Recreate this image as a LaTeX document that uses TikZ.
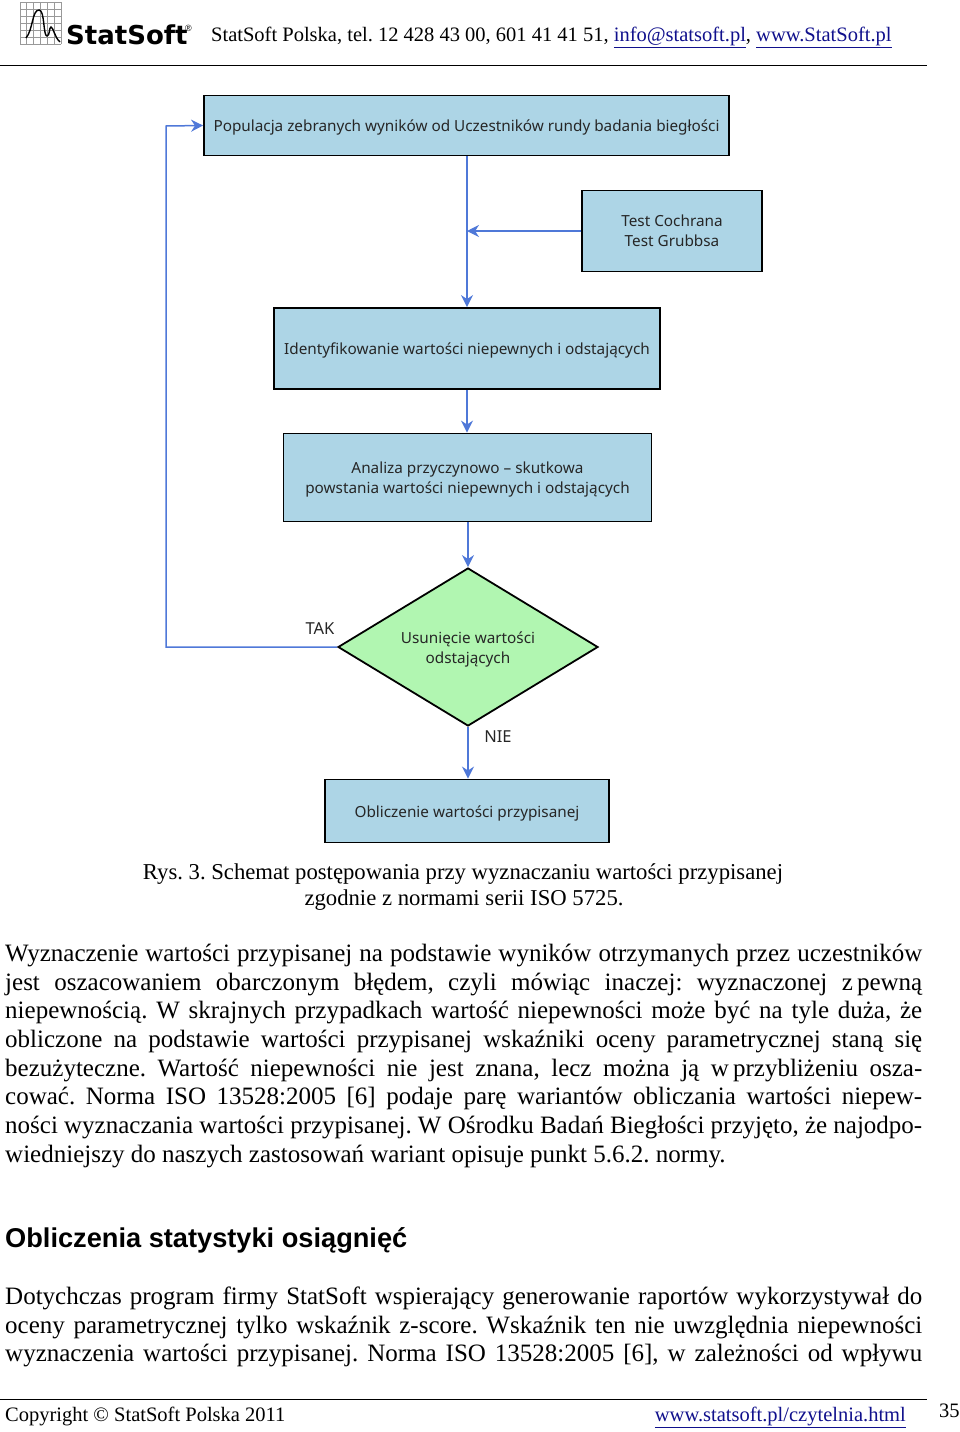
\documentclass[tikz,border=0pt]{standalone}
\usepackage{fontspec}
\setmainfont{Liberation Serif}
\setsansfont{Liberation Sans}
\newfontfamily\boxfont{Noto Sans}
\newfontfamily\logofont{DejaVu Sans}
\usetikzlibrary{shapes.geometric,arrows.meta}
\definecolor{boxblue}{HTML}{ADD5E6}
\definecolor{boxgreen}{HTML}{B1F6B1}
\definecolor{linkblue}{HTML}{10108C}
\definecolor{flowblue}{HTML}{4F78D8}
\frenchspacing
\newcommand{\bodyline}[1]{\makebox[917pt][s]{#1}}
\newcommand{\linkword}[1]{\textcolor{linkblue}{\underline{#1}}}
\newcommand{\lowtext}{\rule{0pt}{16pt}}
\begin{document}
\begin{tikzpicture}[x=1pt,y=-1pt,
box/.style={draw=black,line width=1.8pt,fill=boxblue,align=center,text=black!85,
  font=\boxfont\fontsize{15.3}{20}\selectfont,inner sep=0pt},
flowline/.style={draw=flowblue,line width=1.8pt},
flowarrow/.style={flowline,-{Stealth[length=12pt,width=12pt]}},
label/.style={font=\boxfont\fontsize{16.5}{20}\selectfont,text=black!85,inner sep=0pt},
page/.style={anchor=base west,inner sep=0pt,font=\fontsize{25}{24}\selectfont},
caption/.style={anchor=base,inner sep=0pt,font=\fontsize{22.7}{24}\selectfont},
small/.style={anchor=base west,inner sep=0pt,font=\fontsize{20.5}{24}\selectfont}]
\useasboundingbox (0,0) rectangle (960,1432);
% header
\draw[gray!80,line width=0.7pt,shift={(20,2)}] (0,0) grid[xstep=6.83pt,ystep=7pt] (41,42);
\draw[line width=1.4pt] (26,38) .. controls (33,30) and (32,10) .. (39,10)
.. controls (45,10) and (43,36) .. (47,36) .. controls (50,36) and (49,27) .. (51,27)
.. controls (53,27) and (55,38) .. (60,42);
\node[anchor=base west,inner sep=0pt,font=\logofont\bfseries\fontsize{26}{30}\selectfont] (logo) at (66,44){StatSoft};
\node[anchor=base west,inner sep=0pt,font=\sffamily\fontsize{9}{10}\selectfont] (reg) at (185,31){®};
\node[small] (head) at (211,41){StatSoft Polska, tel. 12 428 43 00, 601 41 41 51, \linkword{info@statsoft.pl}, \linkword{www.StatSoft.pl}};
\coordinate (headL) at (0,65);
\coordinate (headR) at (927,65);
\draw[line width=1pt] (headL) -- (headR);
% flow chart
\node[box,minimum width=525pt,minimum height=60pt] (pop) at (466.5,125.5){\lowtext Populacja zebranych wyników od Uczestników rundy badania biegłości};
\node[box,minimum width=180pt,minimum height=81pt] (test) at (672,231){Test Cochrana\\Test Grubbsa};
\node[box,minimum width=386pt,minimum height=81pt] (ident) at (467,348.5){\lowtext Identyfikowanie wartości niepewnych i odstających};
\node[box,minimum width=368pt,minimum height=88pt] (anal) at (467.5,477.5){\lowtext Analiza przyczynowo – skutkowa\\powstania wartości niepewnych i odstających};
\node[box,diamond,fill=boxgreen,shape aspect=1.6,minimum width=260pt,minimum height=158pt] (usun) at (468,647){\lowtext Usunięcie wartości\\odstających};
\node[box,minimum width=284pt,minimum height=63pt] (obl) at (467,811){\lowtext Obliczenie wartości przypisanej};
\coordinate (join) at (467,231);
\coordinate (back) at (166,126);
\draw[flowarrow] (pop.south-|join) -- (ident.north-|join);
\draw[flowarrow,line width=1.3pt] (test.west) -- (join);
\draw[flowarrow] (ident.south-|join) -- (anal.north-|join);
\draw[flowarrow] (anal.south-|usun.north) -- (usun.north);
\draw[flowarrow] (usun.south) -- (obl.north-|usun.south);
\draw[flowarrow,line width=1.5pt] (usun.west) -| (back) -- (pop.west);
\node[label] (tak) at (320,629){TAK};
\node[label] (nie) at (498,737){NIE};
% caption
\node[caption] (cap1) at (463,879){Rys. 3. Schemat postępowania przy wyznaczaniu wartości przypisanej};
\node[caption] (cap2) at (464,905){zgodnie z normami serii ISO 5725.};
% body
\node[page] (l1) at (5,961){\bodyline{Wyznaczenie wartości przypisanej na podstawie wyników otrzymanych przez uczestników}};
\node[page] (l2) at (5,990){\bodyline{jest oszacowaniem obarczonym błędem, czyli mówiąc inaczej: wyznaczonej z\,pewną}};
\node[page] (l3) at (5,1018){\bodyline{niepewnością. W skrajnych przypadkach wartość niepewności może być na tyle duża, że}};
\node[page] (l4) at (5,1047){\bodyline{obliczone na podstawie wartości przypisanej wskaźniki oceny parametrycznej staną się}};
\node[page] (l5) at (5,1076){\bodyline{bezużyteczne. Wartość niepewności nie jest znana, lecz można ją w\,przybliżeniu osza-}};
\node[page] (l6) at (5,1104){\bodyline{cować. Norma ISO 13528:2005 [6] podaje parę wariantów obliczania wartości niepew-}};
\node[page] (l7) at (5,1133){\bodyline{ności wyznaczania wartości przypisanej. W Ośrodku Badań Biegłości przyjęto, że najodpo-}};
\node[page] (l8) at (5,1162){wiedniejszy do naszych zastosowań wariant opisuje punkt 5.6.2. normy.};
\node[anchor=base west,inner sep=0pt,font=\sffamily\bfseries\fontsize{27.2}{30}\selectfont] (sect) at (5,1247){Obliczenia statystyki osiągnięć};
\node[page] (m1) at (5,1304){\bodyline{Dotychczas program firmy StatSoft wspierający generowanie raportów wykorzystywał do}};
\node[page] (m2) at (5,1333){\bodyline{oceny parametrycznej tylko wskaźnik z-score. Wskaźnik ten nie uwzględnia niepewności}};
\node[page] (m3) at (5,1361){\bodyline{wyznaczenia wartości przypisanej. Norma ISO 13528:2005 [6], w zależności od wpływu}};
% footer
\coordinate (footL) at (0,1399);
\coordinate (footR) at (927,1399);
\draw[line width=1pt] (footL) -- (footR);
\node[small] (copy) at (5,1421){Copyright © StatSoft Polska 2011};
\node[small,anchor=base east] (site) at (906,1421){\linkword{www.statsoft.pl/czytelnia.html}};
\node[small] (pg) at (939,1417){35};
\end{tikzpicture}
\end{document}
